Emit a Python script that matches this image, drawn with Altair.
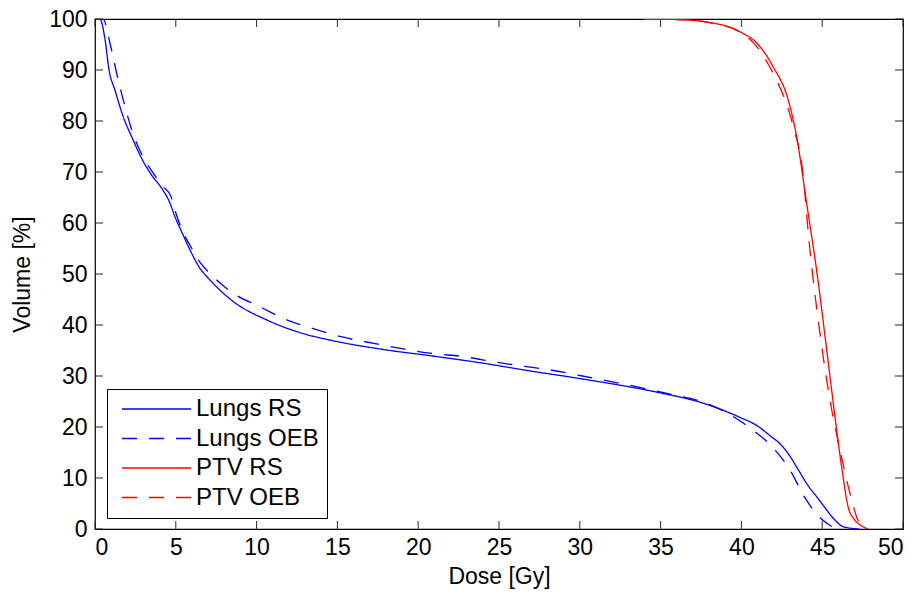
import altair as alt
import pandas as pd

# ---- data ----
lungs_rs_dose = [0, 0.3, 0.62, 0.87, 1.24, 1.75, 2.27, 2.93, 3.5, 4.13, 4.64, 4.95, 5.36, 5.88, 6.5,
                 7.12, 8.56, 10.62, 12.69, 14.75, 17.84, 20.93, 24.03, 26.9, 30.0, 34.96, 37.5,
                 39.9, 41.0, 41.77, 42.39, 42.8, 43.6, 44.04, 44.86, 45.07, 45.79, 46.3, 47.3]
lungs_rs_vol = [100, 100, 96, 90, 86, 80.8, 76.9, 72.4, 69.4, 66.8, 63.9, 61.2, 58.3, 54.7, 51.1,
                48.8, 44.6, 41.0, 38.5, 36.9, 35.2, 33.9, 32.5, 31.0, 29.5, 26.7, 24.8,
                21.9, 20.2, 18.3, 16.7, 15.2, 11.2, 8.9, 5.5, 4.6, 1.76, 0.45, 0]

lungs_oeb_dose = [0, 0.5, 0.93, 1.44, 1.86, 2.3, 3.0, 3.6, 4.2, 4.7, 5.0, 5.4, 5.9, 6.5, 7.12,
                  8.56, 10.2, 11.86, 13.5, 15.37, 17.43, 19.08, 20.93, 22.8, 24.65, 26.3, 28.16,
                  30.0, 33.5, 35.8, 37.5, 39.3, 40.7, 42.0, 43.0, 43.9, 44.9, 45.3, 45.8, 46.3]
lungs_oeb_vol = [100, 100, 95.2, 88, 82.8, 78, 72.8, 69.8, 67.2, 65.2, 62, 58.5, 55.5, 52.3, 50.1,
                 46.2, 43.6, 41.0, 39.3, 37.6, 36.3, 35.3, 34.4, 33.8, 32.8, 32.0, 31.2,
                 30.1, 27.9, 26.3, 25.0, 22.4, 19.4, 15.8, 11.6, 6.3, 2.1, 1.1, 0.2, 0]

ptv_rs_dose = [34, 36, 38.06, 39.91, 41.15, 41.97, 42.9, 43.42, 44.04, 44.66, 45.28, 45.79,
               46.2, 46.6, 47.0, 47.34, 47.85]
ptv_rs_vol = [100, 99.9, 99.3, 97.5, 94.6, 90.6, 84.1, 76.9, 63.8, 50.6, 35.1, 22.0,
              12.2, 4.4, 1.8, 0.8, 0]

ptv_oeb_dose = [34, 36, 38, 39.8, 40.95, 41.97, 42.7, 43.21, 43.83, 44.14, 44.86, 45.48,
                46.1, 46.72, 47.2, 47.7]
ptv_oeb_vol = [100, 99.9, 99.3, 97.6, 94.6, 89.3, 84.1, 78.9, 69.1, 58.0, 38.4, 25.3,
               15.5, 7.0, 1.8, 0]

series_names = ["Lungs RS", "Lungs OEB", "PTV RS", "PTV OEB"]
series_colors = ["#0000ff", "#0000ff", "#ff0000", "#ff0000"]
series_dash = [[1, 0], [15, 12], [1, 0], [15, 12]]

x_ticks = [0, 5, 10, 15, 20, 25, 30, 35, 40, 45, 50]
y_ticks = [0, 10, 20, 30, 40, 50, 60, 70, 80, 90, 100]

rows = []
for name, d, v in zip(series_names,
                      [lungs_rs_dose, lungs_oeb_dose, ptv_rs_dose, ptv_oeb_dose],
                      [lungs_rs_vol, lungs_oeb_vol, ptv_rs_vol, ptv_oeb_vol]):
    for i, (dd, vv) in enumerate(zip(d, v)):
        rows.append({"series": name, "dose": dd, "vol": vv, "ord": i})
df = pd.DataFrame(rows)

W, H = 808, 510
FONT = "Liberation Sans"
TL = 8

xscale = alt.Scale(domain=[0, 50], nice=False, zero=False)
yscale = alt.Scale(domain=[0, 100], nice=False, zero=False)

leg = alt.Legend(
    title=None, orient="none", legendX=12, legendY=370,
    symbolType="stroke", symbolSize=4761, symbolStrokeWidth=1.3,
    labelFont=FONT, labelFontSize=24, labelColor="black",
    strokeColor="black", fillColor="white",
    padding=8, clipHeight=24, rowPadding=5.5, symbolOffset=6, labelOffset=4,
)

lines = alt.Chart(df).mark_line(strokeWidth=1.3, clip=True, interpolate="monotone").encode(
    x=alt.X("dose:Q", scale=xscale,
            axis=alt.Axis(values=x_ticks, ticks=False, domain=False, grid=False,
                          title="Dose [Gy]", labelFont=FONT, labelFontSize=23,
                          labelColor="black", labelPadding=7, titleFont=FONT,
                          titleFontSize=23, titleFontWeight="normal", titleColor="black",
                          titlePadding=6)),
    y=alt.Y("vol:Q", scale=yscale,
            axis=alt.Axis(values=y_ticks, ticks=False, domain=False, grid=False,
                          title="Volume [%]", labelFont=FONT, labelFontSize=23,
                          labelColor="black", labelPadding=8, titleFont=FONT,
                          titleFontSize=23, titleFontWeight="normal", titleColor="black",
                          titlePadding=14)),
    color=alt.Color("series:N", scale=alt.Scale(domain=series_names, range=series_colors),
                    legend=leg),
    strokeDash=alt.StrokeDash("series:N", scale=alt.Scale(domain=series_names, range=series_dash),
                              legend=leg),
    order="ord:Q",
)

xt = pd.DataFrame({"t": x_ticks})
yt = pd.DataFrame({"t": y_ticks})
tick_color = "#262626"

bx = alt.Chart(xt).mark_rule(color=tick_color, strokeWidth=1).encode(
    x=alt.X("t:Q", scale=xscale), y=alt.value(H), y2=alt.value(H - TL))
tx = alt.Chart(xt).mark_rule(color=tick_color, strokeWidth=1).encode(
    x=alt.X("t:Q", scale=xscale), y=alt.value(0), y2=alt.value(TL))
ly = alt.Chart(yt).mark_rule(color=tick_color, strokeWidth=1).encode(
    y=alt.Y("t:Q", scale=yscale), x=alt.value(0), x2=alt.value(TL))
ry = alt.Chart(yt).mark_rule(color=tick_color, strokeWidth=1).encode(
    y=alt.Y("t:Q", scale=yscale), x=alt.value(W), x2=alt.value(W - TL))

chart = alt.layer(bx, tx, ly, ry, lines).properties(
    width=W, height=H,
    autosize=alt.AutoSizeParams(type="none"),
    padding={"left": 95, "top": 19, "right": 19, "bottom": 68},
    background="white",
).configure_view(stroke="black", strokeWidth=1.2)

chart.save("out.html", embed_options={"renderer": "svg", "actions": False})
